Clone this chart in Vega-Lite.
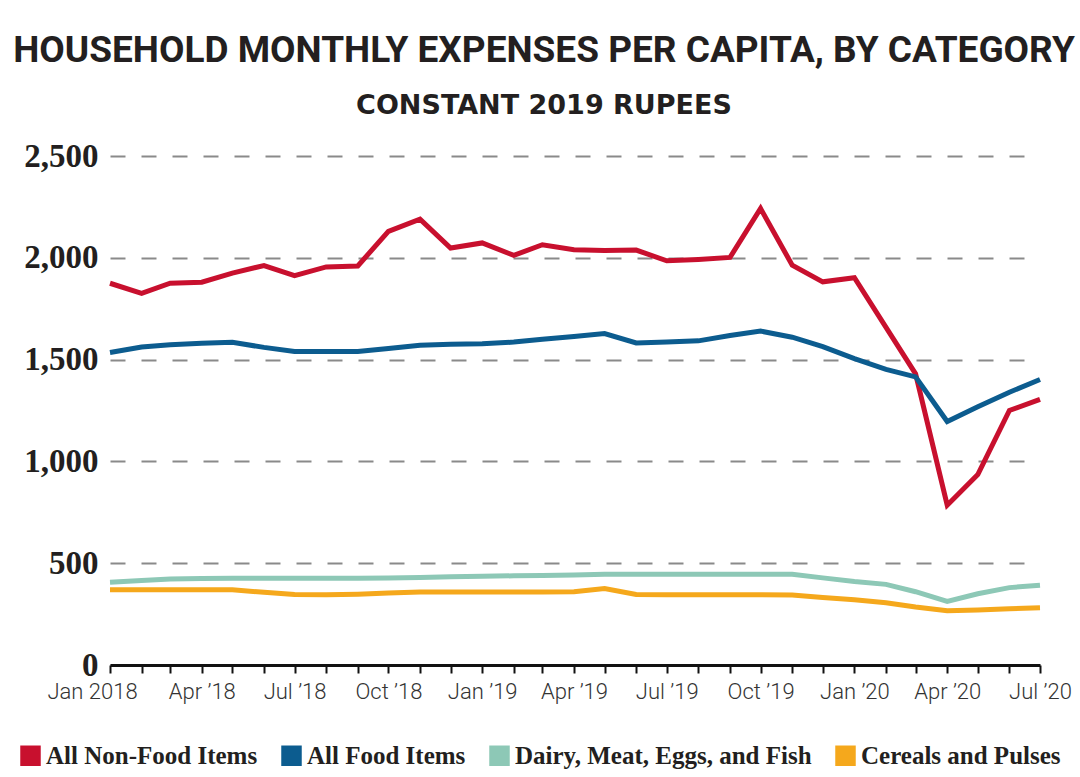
{
  "$schema": "https://vega.github.io/schema/vega-lite/v6.json",
  "width": 930,
  "height": 509,
  "autosize": {"type": "none"},
  "padding": {"left": 110, "top": 156, "right": 40, "bottom": 112},
  "background": "white",
  "title": {
    "text": "HOUSEHOLD MONTHLY EXPENSES PER CAPITA, BY CATEGORY",
    "subtitle": "CONSTANT 2019 RUPEES",
    "anchor": "middle",
    "frame": "group",
    "dx": -31,
    "offset": 20,
    "font": "Roboto",
    "fontWeight": "bold",
    "fontSize": 37,
    "color": "#231f20",
    "subtitleFont": "DejaVu Sans",
    "subtitleFontWeight": "bold",
    "subtitleFontSize": 27,
    "subtitleColor": "#231f20",
    "subtitlePadding": 23
  },
  "data": {
    "values": [
      {"month": "2018-01-01", "category": "All Non-Food Items", "value": 1875},
      {"month": "2018-02-01", "category": "All Non-Food Items", "value": 1825},
      {"month": "2018-03-01", "category": "All Non-Food Items", "value": 1875},
      {"month": "2018-04-01", "category": "All Non-Food Items", "value": 1880},
      {"month": "2018-05-01", "category": "All Non-Food Items", "value": 1925},
      {"month": "2018-06-01", "category": "All Non-Food Items", "value": 1962},
      {"month": "2018-07-01", "category": "All Non-Food Items", "value": 1912},
      {"month": "2018-08-01", "category": "All Non-Food Items", "value": 1955},
      {"month": "2018-09-01", "category": "All Non-Food Items", "value": 1960},
      {"month": "2018-10-01", "category": "All Non-Food Items", "value": 2130},
      {"month": "2018-11-01", "category": "All Non-Food Items", "value": 2190},
      {"month": "2018-12-01", "category": "All Non-Food Items", "value": 2048},
      {"month": "2019-01-01", "category": "All Non-Food Items", "value": 2073},
      {"month": "2019-02-01", "category": "All Non-Food Items", "value": 2012},
      {"month": "2019-03-01", "category": "All Non-Food Items", "value": 2064},
      {"month": "2019-04-01", "category": "All Non-Food Items", "value": 2040},
      {"month": "2019-05-01", "category": "All Non-Food Items", "value": 2036},
      {"month": "2019-06-01", "category": "All Non-Food Items", "value": 2038},
      {"month": "2019-07-01", "category": "All Non-Food Items", "value": 1985},
      {"month": "2019-08-01", "category": "All Non-Food Items", "value": 1992},
      {"month": "2019-09-01", "category": "All Non-Food Items", "value": 2002},
      {"month": "2019-10-01", "category": "All Non-Food Items", "value": 2242},
      {"month": "2019-11-01", "category": "All Non-Food Items", "value": 1964},
      {"month": "2019-12-01", "category": "All Non-Food Items", "value": 1882},
      {"month": "2020-01-01", "category": "All Non-Food Items", "value": 1902},
      {"month": "2020-02-01", "category": "All Non-Food Items", "value": 1658},
      {"month": "2020-03-01", "category": "All Non-Food Items", "value": 1430},
      {"month": "2020-04-01", "category": "All Non-Food Items", "value": 785},
      {"month": "2020-05-01", "category": "All Non-Food Items", "value": 935},
      {"month": "2020-06-01", "category": "All Non-Food Items", "value": 1250},
      {"month": "2020-07-01", "category": "All Non-Food Items", "value": 1305},
      {"month": "2018-01-01", "category": "All Food Items", "value": 1535},
      {"month": "2018-02-01", "category": "All Food Items", "value": 1562},
      {"month": "2018-03-01", "category": "All Food Items", "value": 1573},
      {"month": "2018-04-01", "category": "All Food Items", "value": 1580},
      {"month": "2018-05-01", "category": "All Food Items", "value": 1585},
      {"month": "2018-06-01", "category": "All Food Items", "value": 1560},
      {"month": "2018-07-01", "category": "All Food Items", "value": 1540},
      {"month": "2018-08-01", "category": "All Food Items", "value": 1540},
      {"month": "2018-09-01", "category": "All Food Items", "value": 1540},
      {"month": "2018-10-01", "category": "All Food Items", "value": 1555},
      {"month": "2018-11-01", "category": "All Food Items", "value": 1570},
      {"month": "2018-12-01", "category": "All Food Items", "value": 1575},
      {"month": "2019-01-01", "category": "All Food Items", "value": 1578},
      {"month": "2019-02-01", "category": "All Food Items", "value": 1586},
      {"month": "2019-03-01", "category": "All Food Items", "value": 1600},
      {"month": "2019-04-01", "category": "All Food Items", "value": 1614},
      {"month": "2019-05-01", "category": "All Food Items", "value": 1628},
      {"month": "2019-06-01", "category": "All Food Items", "value": 1582},
      {"month": "2019-07-01", "category": "All Food Items", "value": 1586},
      {"month": "2019-08-01", "category": "All Food Items", "value": 1592},
      {"month": "2019-09-01", "category": "All Food Items", "value": 1618},
      {"month": "2019-10-01", "category": "All Food Items", "value": 1640},
      {"month": "2019-11-01", "category": "All Food Items", "value": 1610},
      {"month": "2019-12-01", "category": "All Food Items", "value": 1564},
      {"month": "2020-01-01", "category": "All Food Items", "value": 1505},
      {"month": "2020-02-01", "category": "All Food Items", "value": 1452},
      {"month": "2020-03-01", "category": "All Food Items", "value": 1415},
      {"month": "2020-04-01", "category": "All Food Items", "value": 1196},
      {"month": "2020-05-01", "category": "All Food Items", "value": 1268},
      {"month": "2020-06-01", "category": "All Food Items", "value": 1340},
      {"month": "2020-07-01", "category": "All Food Items", "value": 1402},
      {"month": "2018-01-01", "category": "Dairy, Meat, Eggs, and Fish", "value": 407},
      {"month": "2018-02-01", "category": "Dairy, Meat, Eggs, and Fish", "value": 415},
      {"month": "2018-03-01", "category": "Dairy, Meat, Eggs, and Fish", "value": 422},
      {"month": "2018-04-01", "category": "Dairy, Meat, Eggs, and Fish", "value": 425},
      {"month": "2018-05-01", "category": "Dairy, Meat, Eggs, and Fish", "value": 426},
      {"month": "2018-06-01", "category": "Dairy, Meat, Eggs, and Fish", "value": 426},
      {"month": "2018-07-01", "category": "Dairy, Meat, Eggs, and Fish", "value": 426},
      {"month": "2018-08-01", "category": "Dairy, Meat, Eggs, and Fish", "value": 426},
      {"month": "2018-09-01", "category": "Dairy, Meat, Eggs, and Fish", "value": 426},
      {"month": "2018-10-01", "category": "Dairy, Meat, Eggs, and Fish", "value": 427},
      {"month": "2018-11-01", "category": "Dairy, Meat, Eggs, and Fish", "value": 430},
      {"month": "2018-12-01", "category": "Dairy, Meat, Eggs, and Fish", "value": 433},
      {"month": "2019-01-01", "category": "Dairy, Meat, Eggs, and Fish", "value": 436},
      {"month": "2019-02-01", "category": "Dairy, Meat, Eggs, and Fish", "value": 438},
      {"month": "2019-03-01", "category": "Dairy, Meat, Eggs, and Fish", "value": 440},
      {"month": "2019-04-01", "category": "Dairy, Meat, Eggs, and Fish", "value": 442},
      {"month": "2019-05-01", "category": "Dairy, Meat, Eggs, and Fish", "value": 446},
      {"month": "2019-06-01", "category": "Dairy, Meat, Eggs, and Fish", "value": 446},
      {"month": "2019-07-01", "category": "Dairy, Meat, Eggs, and Fish", "value": 446},
      {"month": "2019-08-01", "category": "Dairy, Meat, Eggs, and Fish", "value": 446},
      {"month": "2019-09-01", "category": "Dairy, Meat, Eggs, and Fish", "value": 446},
      {"month": "2019-10-01", "category": "Dairy, Meat, Eggs, and Fish", "value": 446},
      {"month": "2019-11-01", "category": "Dairy, Meat, Eggs, and Fish", "value": 446},
      {"month": "2019-12-01", "category": "Dairy, Meat, Eggs, and Fish", "value": 428},
      {"month": "2020-01-01", "category": "Dairy, Meat, Eggs, and Fish", "value": 410},
      {"month": "2020-02-01", "category": "Dairy, Meat, Eggs, and Fish", "value": 396},
      {"month": "2020-03-01", "category": "Dairy, Meat, Eggs, and Fish", "value": 360},
      {"month": "2020-04-01", "category": "Dairy, Meat, Eggs, and Fish", "value": 312},
      {"month": "2020-05-01", "category": "Dairy, Meat, Eggs, and Fish", "value": 350},
      {"month": "2020-06-01", "category": "Dairy, Meat, Eggs, and Fish", "value": 380},
      {"month": "2020-07-01", "category": "Dairy, Meat, Eggs, and Fish", "value": 392},
      {"month": "2018-01-01", "category": "Cereals and Pulses", "value": 369},
      {"month": "2018-02-01", "category": "Cereals and Pulses", "value": 370},
      {"month": "2018-03-01", "category": "Cereals and Pulses", "value": 370},
      {"month": "2018-04-01", "category": "Cereals and Pulses", "value": 370},
      {"month": "2018-05-01", "category": "Cereals and Pulses", "value": 370},
      {"month": "2018-06-01", "category": "Cereals and Pulses", "value": 357},
      {"month": "2018-07-01", "category": "Cereals and Pulses", "value": 346},
      {"month": "2018-08-01", "category": "Cereals and Pulses", "value": 345},
      {"month": "2018-09-01", "category": "Cereals and Pulses", "value": 348},
      {"month": "2018-10-01", "category": "Cereals and Pulses", "value": 354},
      {"month": "2018-11-01", "category": "Cereals and Pulses", "value": 358},
      {"month": "2018-12-01", "category": "Cereals and Pulses", "value": 358},
      {"month": "2019-01-01", "category": "Cereals and Pulses", "value": 358},
      {"month": "2019-02-01", "category": "Cereals and Pulses", "value": 358},
      {"month": "2019-03-01", "category": "Cereals and Pulses", "value": 358},
      {"month": "2019-04-01", "category": "Cereals and Pulses", "value": 360},
      {"month": "2019-05-01", "category": "Cereals and Pulses", "value": 376},
      {"month": "2019-06-01", "category": "Cereals and Pulses", "value": 346},
      {"month": "2019-07-01", "category": "Cereals and Pulses", "value": 345},
      {"month": "2019-08-01", "category": "Cereals and Pulses", "value": 345},
      {"month": "2019-09-01", "category": "Cereals and Pulses", "value": 345},
      {"month": "2019-10-01", "category": "Cereals and Pulses", "value": 345},
      {"month": "2019-11-01", "category": "Cereals and Pulses", "value": 344},
      {"month": "2019-12-01", "category": "Cereals and Pulses", "value": 332},
      {"month": "2020-01-01", "category": "Cereals and Pulses", "value": 320},
      {"month": "2020-02-01", "category": "Cereals and Pulses", "value": 306},
      {"month": "2020-03-01", "category": "Cereals and Pulses", "value": 285},
      {"month": "2020-04-01", "category": "Cereals and Pulses", "value": 267},
      {"month": "2020-05-01", "category": "Cereals and Pulses", "value": 270},
      {"month": "2020-06-01", "category": "Cereals and Pulses", "value": 276},
      {"month": "2020-07-01", "category": "Cereals and Pulses", "value": 281}
    ]
  },
  "mark": {"type": "line", "strokeWidth": 5},
  "encoding": {
    "x": {
      "field": "month",
      "type": "temporal",
      "scale": {"type": "utc", "nice": false},
      "axis": {
        "title": null,
        "grid": false,
        "tickCount": {"interval": "month", "step": 1},
        "labelExpr": "utcmonth(datum.value) % 3 != 0 ? '' : ((utcyear(datum.value) == 2018 && utcmonth(datum.value) == 0) ? 'Jan 2018' : utcFormat(datum.value, '%b') + ' \u2019' + utcFormat(datum.value, '%y'))",
        "labelOverlap": false,
        "labelFlush": false,
        "labelFont": "Roboto",
        "labelFontWeight": 300,
        "labelFontSize": 22,
        "labelColor": "#333333",
        "labelPadding": 8,
        "labelOffset": {"condition": {"test": "utcyear(datum.value) == 2018 && utcmonth(datum.value) == 0", "value": -18}, "value": 0},
        "domainColor": "#111111",
        "domainWidth": 3,
        "tickColor": "#111111",
        "tickWidth": 2,
        "tickSize": 8
      }
    },
    "y": {
      "field": "value",
      "type": "quantitative",
      "scale": {"domain": [0, 2500], "nice": false},
      "axis": {
        "title": null,
        "values": [0, 500, 1000, 1500, 2000, 2500],
        "format": ",d",
        "domain": false,
        "ticks": false,
        "grid": true,
        "gridColor": "#8a8a8a",
        "gridWidth": 2,
        "gridDash": [15, 16],
        "labelFont": "Liberation Serif",
        "labelFontWeight": "bold",
        "labelFontSize": 33,
        "labelColor": "#231f20",
        "labelPadding": 12
      }
    },
    "color": {
      "field": "category",
      "type": "nominal",
      "scale": {
        "domain": ["All Non-Food Items", "All Food Items", "Dairy, Meat, Eggs, and Fish", "Cereals and Pulses"],
        "range": ["#c8102e", "#0c5c8f", "#8dc8b6", "#f5a81c"]
      },
      "legend": {
        "orient": "none",
        "legendX": -92,
        "legendY": 587,
        "direction": "horizontal",
        "title": null,
        "symbolType": "square",
        "symbolSize": 420,
        "symbolStrokeWidth": 0,
        "labelFont": "Liberation Serif",
        "labelFontWeight": "bold",
        "labelFontSize": 25,
        "labelColor": "#231f20",
        "labelOffset": 3,
        "labelLimit": 400,
        "columnPadding": 21,
        "encode": {
          "symbols": {
            "update": {
              "fill": {"scale": "color", "field": "value"},
              "stroke": {"value": "transparent"},
              "opacity": {"value": 1}
            }
          }
        }
      }
    }
  },
  "config": {"view": {"stroke": null}}
}
